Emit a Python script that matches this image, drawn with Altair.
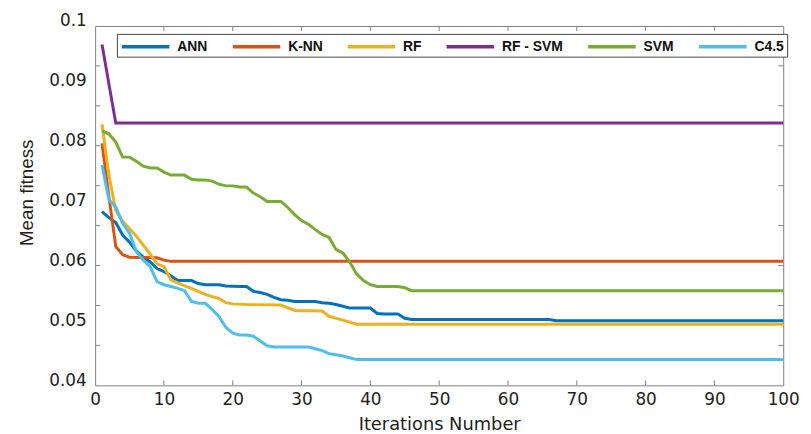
import altair as alt
import pandas as pd

# ---- data ----
models = ["ANN", "K-NN", "RF", "RF - SVM", "SVM", "C4.5"]
colors = ["#0072BD", "#D95319", "#EDB120", "#7E2F8E", "#77AC30", "#4DBEEE"]

ann_x = [1, 2, 3, 4, 5, 6, 7, 8, 9, 10, 11, 12, 14, 15, 16, 18, 19, 21, 22, 23, 24, 25, 26, 27, 28, 29,
         32, 33, 34, 35, 36, 37, 40, 41, 42, 44, 45, 46, 66, 67, 100]
ann_y = [0.0690, 0.0680, 0.0672, 0.0651, 0.0639, 0.0624, 0.0614, 0.0606, 0.0595, 0.0590, 0.0583, 0.0575,
         0.0575, 0.0570, 0.0568, 0.0568, 0.0566, 0.0565, 0.0565, 0.0557, 0.0555, 0.0552, 0.0547, 0.0543,
         0.0542, 0.0540, 0.0540, 0.0538, 0.0537, 0.0535, 0.0532, 0.0529, 0.0529, 0.0520, 0.0519, 0.0519,
         0.0512, 0.0510, 0.0510, 0.0508, 0.0508]

knn_x = [1, 2, 3, 4, 5, 9, 10, 11, 100]
knn_y = [0.0804, 0.0715, 0.0632, 0.0618, 0.0614, 0.0613, 0.0609, 0.0607, 0.0607]

rf_x = [1, 2, 3, 4, 5, 6, 7, 8, 9, 10, 11, 12, 13, 14, 15, 16, 17, 18, 19, 20, 22, 27, 29, 33, 34, 36, 38, 100]
rf_y = [0.0836, 0.0751, 0.0692, 0.0674, 0.0662, 0.0649, 0.0634, 0.0619, 0.0603, 0.0598, 0.0576, 0.0571,
        0.0566, 0.0562, 0.0557, 0.0552, 0.0548, 0.0545, 0.0538, 0.0536, 0.0535, 0.0534, 0.0525, 0.0524,
        0.0515, 0.0509, 0.0502, 0.0502]

rfsvm_x = [1, 3, 100]
rfsvm_y = [0.0969, 0.0838, 0.0838]

svm_x = [1, 2, 3, 4, 5, 6, 7, 8, 9, 10, 11, 13, 14, 15, 16, 17, 18, 19, 20, 21, 22, 23, 24, 25, 27, 28,
         29, 30, 31, 32, 33, 34, 35, 36, 37, 38, 39, 40, 41, 44, 45, 46, 100]
svm_y = [0.0825, 0.0820, 0.0806, 0.0781, 0.0781, 0.0774, 0.0766, 0.0763, 0.0763, 0.0756, 0.0751, 0.0751,
         0.0744, 0.0743, 0.0743, 0.0741, 0.0736, 0.0733, 0.0733, 0.0731, 0.0731, 0.0721, 0.0715, 0.0707,
         0.0707, 0.0697, 0.0685, 0.0675, 0.0669, 0.0660, 0.0652, 0.0647, 0.0627, 0.0621, 0.0606, 0.0586,
         0.0575, 0.0568, 0.0565, 0.0565, 0.0563, 0.0558, 0.0558]

c45_x = [1, 2, 3, 4, 5, 6, 7, 8, 9, 10, 11, 12, 13, 14, 15, 16, 17, 18, 19, 20, 21, 22, 23, 24, 25, 26,
         31, 32, 33, 34, 35, 36, 37, 38, 100]
c45_y = [0.0768, 0.0710, 0.0698, 0.0670, 0.0654, 0.0623, 0.0609, 0.0598, 0.0573, 0.0568, 0.0565, 0.0562,
         0.0558, 0.0540, 0.0537, 0.0537, 0.0527, 0.0515, 0.0497, 0.0487, 0.0484, 0.0484, 0.0482, 0.0474,
         0.0466, 0.0464, 0.0464, 0.0461, 0.0458, 0.0453, 0.0451, 0.0449, 0.0446, 0.0443, 0.0443]

x_labels = [0, 10, 20, 30, 40, 50, 60, 70, 80, 90, 100]
y_labels = [0.04, 0.05, 0.06, 0.07, 0.08, 0.09, 0.1]
x_tick_marks = [10, 20, 30, 40, 50, 60, 70, 80, 90]
y_tick_marks = [0.04667, 0.05333, 0.06, 0.06667, 0.07333, 0.08, 0.08667, 0.09333]

series = [(ann_x, ann_y), (knn_x, knn_y), (rf_x, rf_y), (rfsvm_x, rfsvm_y), (svm_x, svm_y), (c45_x, c45_y)]
rows = []
for i, (name, (xs, ys)) in enumerate(zip(models, series)):
    for xv, yv in zip(xs, ys):
        rows.append({"Model": name, "order": i, "iteration": xv, "fitness": yv})
df = pd.DataFrame(rows)

W, H = 695, 363
FONT = "Liberation Sans"
WIDE = "DejaVu Sans"
TICK = "#7f7f7f"

xscale = alt.Scale(domain=[0, 100], nice=False)
yscale = alt.Scale(domain=[0.04, 0.1], nice=False, zero=False)

lines = alt.Chart(df).mark_line(strokeWidth=3).encode(
    x=alt.X("iteration:Q", scale=xscale,
            axis=alt.Axis(values=x_labels, title="Iterations Number", grid=False, domain=False,
                          ticks=False, labelFlush=False, labelPadding=6, labelFontSize=17,
                          labelFont=WIDE, labelColor="#222", titleFont=WIDE, titleFontSize=18,
                          titleFontWeight="normal", titleColor="#222", titlePadding=9)),
    y=alt.Y("fitness:Q", scale=yscale,
            axis=alt.Axis(values=y_labels, format=".2~f", title="Mean fitness", grid=False,
                          domain=False, ticks=False, labelPadding=9, labelOffset=-5,
                          labelFontSize=17, labelFont=WIDE, labelColor="#222",
                          titleFont="Liberation Sans Narrow, Liberation Sans", titleFontSize=19,
                          titleFontWeight="normal", titleColor="#222", titlePadding=12,
                          titleY=168)),
    color=alt.Color("Model:N", scale=alt.Scale(domain=models, range=colors), sort=models,
                    legend=alt.Legend(orient="none", legendX=22, legendY=8, direction="horizontal",
                                      title=None, symbolType="M-1,0H5", symbolSize=256,
                                      symbolStrokeWidth=3.5, labelOffset=38, columnPadding=18,
                                      gridAlign="none",
                                      labelFont=FONT, labelFontSize=14, labelFontWeight="bold",
                                      labelColor="#111", fillColor="white", strokeColor="#444",
                                      padding=3, labelLimit=200)),
    order=alt.Order("order:Q"),
    detail="Model:N",
)

ydf = pd.DataFrame({"fitness": y_tick_marks})
xdf = pd.DataFrame({"iteration": x_tick_marks})

left_ticks = alt.Chart(ydf).mark_rule(color=TICK, strokeWidth=1).encode(
    y=alt.Y("fitness:Q", scale=yscale), x=alt.value(0), x2=alt.value(5))
right_ticks = alt.Chart(ydf).mark_rule(color=TICK, strokeWidth=1).encode(
    y=alt.Y("fitness:Q", scale=yscale), x=alt.value(W - 5), x2=alt.value(W))
bottom_ticks = alt.Chart(xdf).mark_rule(color=TICK, strokeWidth=1).encode(
    x=alt.X("iteration:Q", scale=xscale), y=alt.value(H), y2=alt.value(H - 5))
top_ticks = alt.Chart(xdf).mark_rule(color=TICK, strokeWidth=1).encode(
    x=alt.X("iteration:Q", scale=xscale), y=alt.value(0), y2=alt.value(5))

chart = alt.layer(lines, left_ticks, right_ticks, bottom_ticks, top_ticks).properties(
    width=W, height=H,
    padding={"left": 88, "top": 16, "right": 20, "bottom": 47},
    autosize=alt.AutoSizeParams(type="none"),
    background="white",
).configure_view(stroke="#808080", strokeWidth=1)

chart.save("out.html", embed_options={"renderer": "svg", "actions": False})
